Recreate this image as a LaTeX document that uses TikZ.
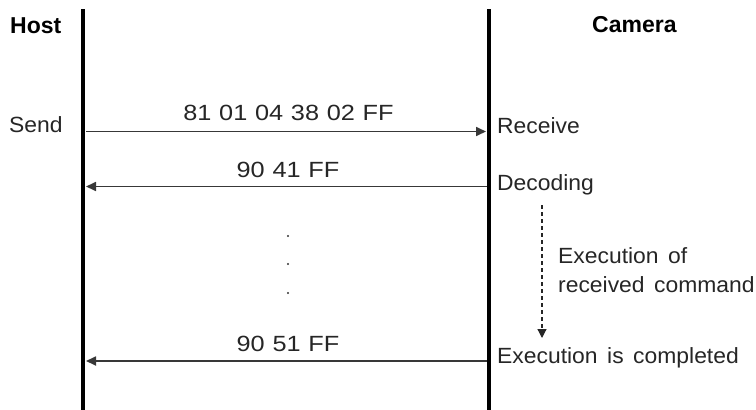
\documentclass[tikz,border=0pt]{standalone}
\usepackage{fontspec}
\setmainfont{Liberation Sans}
\newfontfamily\txtfont[FakeStretch=1.04,WordSpace=1.5]{Liberation Sans}
\newfontfamily\hexfont[FakeStretch=1.15,WordSpace=1.1]{Liberation Sans}
\usetikzlibrary{arrows.meta}
\begin{document}
\begin{tikzpicture}[x=1pt,y=-1pt,
  lbl/.style={inner sep=0pt,font=\txtfont\fontsize{22}{26}\selectfont,text=black!85},
  hexl/.style={inner sep=0pt,font=\hexfont\fontsize{22}{26}\selectfont,text=black!85},
  head/.style={inner sep=0pt,font=\fontsize{23}{27}\selectfont\bfseries,text=black},
  life/.style={line width=3.2pt,black},
  msg/.style={line width=1.7pt,black!78,-{Triangle[length=10pt,width=9pt]}},
  dsh/.style={line width=1.2pt,black!85,dash pattern=on 4pt off 3pt,-{Triangle[length=9pt,width=9pt]}},
  dotn/.style={circle,fill=black!80,inner sep=0pt,minimum size=2.2pt}]
\useasboundingbox (0,0) rectangle (756,410);
\coordinate (htop) at (83,9);
\coordinate (hbot) at (83,410);
\coordinate (ctop) at (489,9);
\coordinate (cbot) at (489,410);
\draw[life] (htop) -- (hbot);
\draw[life] (ctop) -- (cbot);
\node[head,anchor=base west] (host) at (10,33) {Host};
\node[head,anchor=base west] (cam) at (592,32) {Camera};
\node[lbl,anchor=base west] (send) at (9,132) {Send};
\node[lbl,anchor=base west] (recv) at (497,133) {Receive};
\node[lbl,anchor=base west] (dec) at (497,190) {Decoding};
\node[lbl,anchor=base west] (done) at (497,363) {Execution is completed};
\node[lbl,anchor=base west,align=left] (ex1) at (558,263) {Execution of};
\node[lbl,anchor=base west,align=left] (ex2) at (558,292) {received command};
\coordinate (a1s) at (86,131.5);
\coordinate (a1e) at (486,131.5);
\coordinate (a2s) at (487,186.5);
\coordinate (a2e) at (86,186.5);
\coordinate (a3s) at (487,361);
\coordinate (a3e) at (86,361);
\draw[msg] (a1s) -- (a1e);
\draw[msg] (a2s) -- (a2e);
\draw[msg] (a3s) -- (a3e);
\node[hexl,anchor=base] (m1) at (288.5,120) {81 01 04 38 02 FF};
\node[hexl,anchor=base] (m2) at (288,177) {90 41 FF};
\node[hexl,anchor=base] (m3) at (288,351) {90 51 FF};
\coordinate (ds) at (542,205);
\coordinate (de) at (542,338);
\draw[dsh] (ds) -- (de);
\node[dotn] (d1) at (288,236) {};
\node[dotn] (d2) at (288,264) {};
\node[dotn] (d3) at (288,293) {};
\end{tikzpicture}
\end{document}
